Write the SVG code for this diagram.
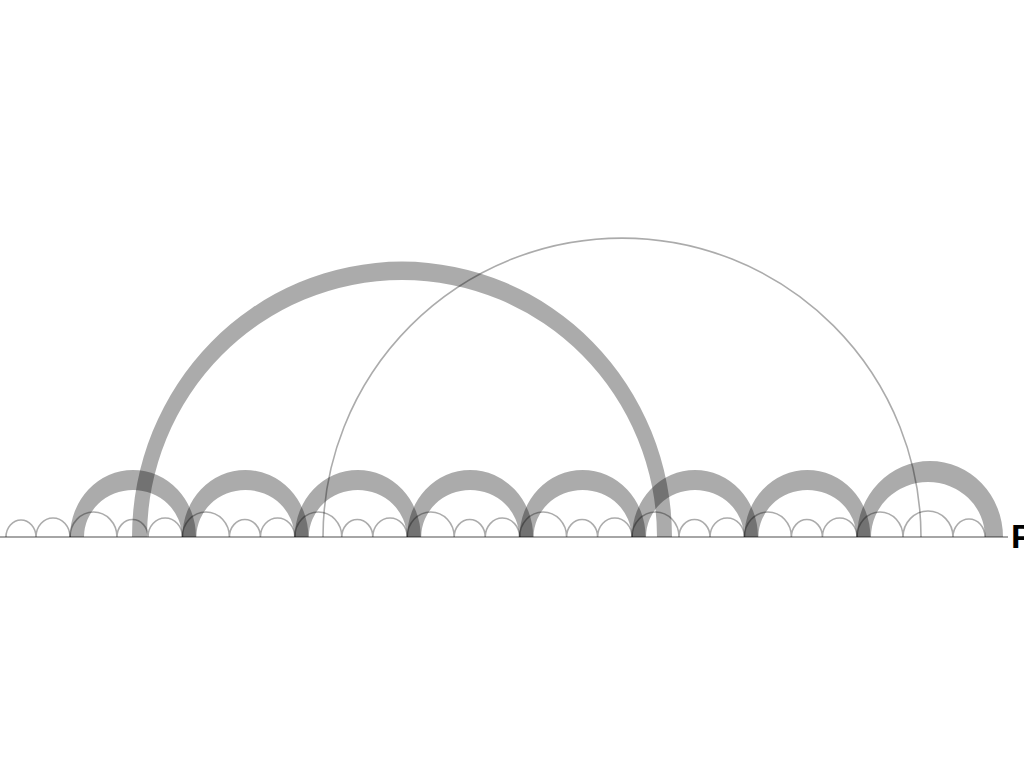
<svg xmlns="http://www.w3.org/2000/svg" width="1024" height="768" viewBox="0 0 1024 768">
<style>
.band{fill:#000;fill-opacity:0.33;stroke:none}
.thin{fill:none;stroke:#000;stroke-opacity:0.33;stroke-width:1.6}
.axis{stroke:#000;stroke-opacity:0.35;stroke-width:2}
.lbl{font-family:"Liberation Sans",Arial,sans-serif;font-weight:bold;font-size:34px;fill:#000}
</style>
<rect width="1024" height="768" fill="#fff"/>
<g id="axis"><line class="axis" x1="0" y1="537" x2="1008" y2="537"/></g>
<g id="connectors">
<path class="band" d="M132 537A270 275.5 0 0 1 672 537L657 537A255 257 0 0 0 147 537Z"/>
<path class="band" d="M70 537A63 67 0 0 1 196 537L182 537A49 47 0 0 0 84 537Z"/>
<path class="band" d="M182.4 537A63 67 0 0 1 308.4 537L294.4 537A49 47 0 0 0 196.4 537Z"/>
<path class="band" d="M294.8 537A63 67 0 0 1 420.8 537L406.8 537A49 47 0 0 0 308.8 537Z"/>
<path class="band" d="M407.2 537A63 67 0 0 1 533.2 537L519.2 537A49 47 0 0 0 421.2 537Z"/>
<path class="band" d="M519.6 537A63 67 0 0 1 645.6 537L631.6 537A49 47 0 0 0 533.6 537Z"/>
<path class="band" d="M632 537A63 67 0 0 1 758 537L744 537A49 47 0 0 0 646 537Z"/>
<path class="band" d="M744.4 537A63 67 0 0 1 870.4 537L856.4 537A49 47 0 0 0 758.4 537Z"/>
<path class="band" d="M857 537A73 76 0 0 1 1003 537L985 537A57 55 0 0 0 871 537Z"/>
<path class="thin" d="M323 537A299 299 0 0 1 921 537"/>
<path class="thin" d="M6 537A15 17 0 0 1 36 537A17 19 0 0 1 70 537"/>
<path class="thin" d="M70 537A23.5 25 0 0 1 117 537A15.5 17.5 0 0 1 148 537A17.2 19 0 0 1 182.4 537"/>
<path class="thin" d="M182.4 537A23.5 25 0 0 1 229.4 537A15.5 17.5 0 0 1 260.4 537A17.2 19 0 0 1 294.8 537"/>
<path class="thin" d="M294.8 537A23.5 25 0 0 1 341.8 537A15.5 17.5 0 0 1 372.8 537A17.2 19 0 0 1 407.2 537"/>
<path class="thin" d="M407.2 537A23.5 25 0 0 1 454.2 537A15.5 17.5 0 0 1 485.2 537A17.2 19 0 0 1 519.6 537"/>
<path class="thin" d="M519.6 537A23.5 25 0 0 1 566.6 537A15.5 17.5 0 0 1 597.6 537A17.2 19 0 0 1 632 537"/>
<path class="thin" d="M632 537A23.5 25 0 0 1 679 537A15.5 17.5 0 0 1 710 537A17.2 19 0 0 1 744.4 537"/>
<path class="thin" d="M744.4 537A23.5 25 0 0 1 791.4 537A15.5 17.5 0 0 1 822.4 537A17.3 19 0 0 1 857 537"/>
<path class="thin" d="M857 537A23 25 0 0 1 903 537A25 26 0 0 1 953 537A16 18 0 0 1 985 537"/>
</g>
<g id="label"><text class="lbl" x="1011" y="548">P</text></g>
</svg>
